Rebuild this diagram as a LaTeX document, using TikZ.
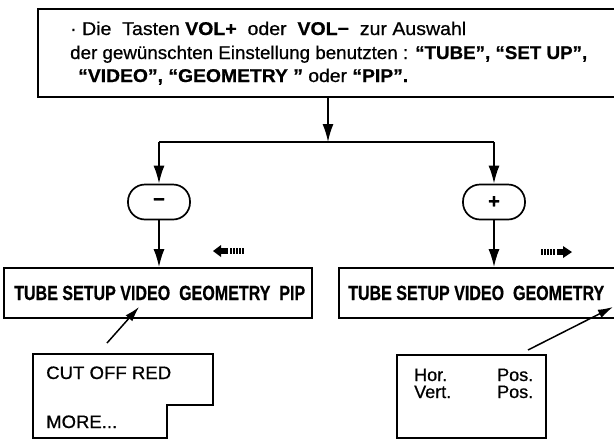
\documentclass[tikz,border=0pt]{standalone}
\usepackage{fontspec}
\setmainfont{Liberation Sans}[FakeBold=0.7]
\usetikzlibrary{arrows.meta}
\tikzset{
  ln/.style={line width=1.7pt},
  arr/.style={line width=1.7pt, -{Latex[length=18pt,width=11pt]}},
  sarr/.style={line width=1.5pt, -{Latex[length=15pt,width=9pt]}},
  box/.style={draw, line width=1.7pt, inner sep=0pt, rectangle},
  oval/.style={draw, line width=1.7pt, rounded corners=17pt, minimum width=62pt, minimum height=35pt, inner sep=0pt, font=\bfseries\fontsize{20}{20}\selectfont},
  txt/.style={inner sep=0pt, anchor=base west},
  toptxt/.style={txt, font=\fontsize{18.5}{18}\selectfont},
  midtxt/.style={txt, font=\bfseries\fontsize{20.5}{20}\selectfont},
  lowtxt/.style={txt, font=\fontsize{18}{18}\selectfont},
}
\begin{document}
\begin{tikzpicture}[x=1pt,y=-1pt]
\useasboundingbox (0,0) rectangle (614,440);
% top box
\node[box, minimum width=580pt, minimum height=88pt] (top) at (328,53) {};
\node[toptxt] (l1) at (70,35) {\resizebox{396pt}{\height}{· Die\ \ Tasten \textbf{VOL+}\ \ oder\ \ \textbf{VOL−}\ \ zur Auswahl}};
\node[toptxt] (l2) at (70,59) {\resizebox{517pt}{\height}{der gewünschten Einstellung benutzten : \textbf{“TUBE”, “SET UP”,}}};
\node[toptxt] (l3) at (78,82) {\resizebox{330pt}{\height}{\textbf{“VIDEO”, “GEOMETRY ”} oder \textbf{“PIP”.}}};
% branching
\coordinate (br) at (328,142);
\coordinate (bl) at (159,142);
\coordinate (brr) at (494,142);
\draw[arr] (top.south) -- (br);
\draw[ln] (bl) -- (brr);
\node[oval] (minus) at (159,202) {−};
\node[oval] (plus) at (494,202) {+};
\draw[arr] (bl) -- (minus.north);
\draw[arr] (brr) -- (plus.north);
% middle boxes
\node[box, minimum width=308pt, minimum height=50pt] (midL) at (158,293) {};
\node[box, minimum width=286pt, minimum height=50pt] (midR) at (482,293) {};
\draw[arr] (minus.south) -- (minus.south |- midL.north);
\draw[arr] (plus.south) -- (plus.south |- midR.north);
\node[midtxt] (tL) at (14,300) {\resizebox{291pt}{\height}{TUBE SETUP VIDEO\ \ GEOMETRY\ \ PIP}};
\node[midtxt] (tR) at (348,300) {\resizebox{256pt}{\height}{TUBE SETUP VIDEO\ \ GEOMETRY}};
% small striped arrows
\fill (213,251) -- (221,245) -- (221,257) -- cycle;
\fill (220,248) rectangle (228,254);
\foreach \x in {231,234,237,240,243} \draw[line width=1.3pt] (\x,248) -- (\x,254);
\fill (572,252) -- (563,246) -- (563,258) -- cycle;
\fill (557,249) rectangle (564,255);
\foreach \x in {542,545,548,551,554} \draw[line width=1.3pt] (\x,249) -- (\x,255);
% lower left box
\draw[ln] (33,354) -- (213,354) -- (213,405) -- (167,405) -- (167,438) -- (33,438) -- cycle;
\node[lowtxt] (cut) at (46,379) {\resizebox{125pt}{\height}{CUT OFF RED}};
\node[lowtxt] (more) at (46,428) {\resizebox{71pt}{\height}{MORE...}};
\coordinate (aL1) at (107,343);
\coordinate (aL2) at (139,307);
\draw[sarr] (aL1) -- (aL2);
% lower right box
\node[box, minimum width=149pt, minimum height=83pt] (hv) at (471.5,396.5) {};
\node[lowtxt] (hor) at (414,381) {Hor.};
\node[lowtxt] (pos1) at (497,381) {Pos.};
\node[lowtxt] (vert) at (414,398) {Vert.};
\node[lowtxt] (pos2) at (497,398) {Pos.};
\coordinate (aR1) at (528,350);
\coordinate (aR2) at (613,307);
\draw[sarr] (aR1) -- (aR2);
\end{tikzpicture}
\end{document}
